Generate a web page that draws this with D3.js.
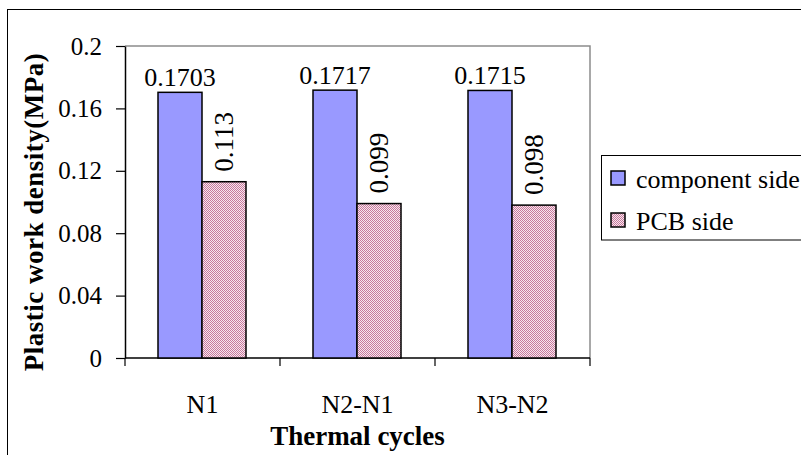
<!DOCTYPE html>
<html>
<head>
<meta charset="utf-8">
<script src="https://cdn.jsdelivr.net/npm/d3@7/dist/d3.min.js"></script>
<style>
  html, body { margin: 0; padding: 0; background: #fff; }
  svg { display: block; }
  text { font-family: "Liberation Serif", "Times New Roman", "DejaVu Serif", serif; fill: #000; }
</style>
</head>
<body>
<svg id="chart" width="801" height="455"></svg>
<script>
// Plastic work density per thermal-cycle interval
const categories = ["N1", "N2-N1", "N3-N2"];
const seriesNames = ["component side", "PCB side"];
const componentSide = [0.1703, 0.1717, 0.1715];
const pcbSide = [0.113, 0.099, 0.098];
const componentLabels = ["0.1703", "0.1717", "0.1715"];
const pcbLabels = ["0.113", "0.099", "0.098"];
const yTicks = [0, 0.04, 0.08, 0.12, 0.16, 0.2];
const yTickLabels = ["0", "0.04", "0.08", "0.12", "0.16", "0.2"];

const svg = d3.select("#chart");

// fine checkered fill for the PCB side series
const defs = svg.append("defs");
const pat = defs.append("pattern")
  .attr("id", "pcbFill")
  .attr("patternUnits", "userSpaceOnUse")
  .attr("x", 0).attr("y", 0)
  .attr("width", 2).attr("height", 2);
pat.append("rect").attr("width", 2).attr("height", 2)
  .attr("fill", "#f6e8ee").attr("shape-rendering", "crispEdges");
pat.append("rect").attr("x", 0).attr("y", 0).attr("width", 1).attr("height", 1)
  .attr("fill", "#c8789c").attr("shape-rendering", "crispEdges");
pat.append("rect").attr("x", 1).attr("y", 1).attr("width", 1).attr("height", 1)
  .attr("fill", "#c8789c").attr("shape-rendering", "crispEdges");

// outer chart frame
svg.append("rect")
  .attr("x", 7.5).attr("y", 9.5).attr("width", 820).attr("height", 470)
  .attr("fill", "none").attr("stroke", "#000").attr("stroke-width", 1);

const plot = { left: 125, right: 590, top: 46, bottom: 358 };

const x0 = d3.scaleBand().domain(categories).rangeRound([plot.left, plot.right]).padding(0);
const barW = x0.bandwidth() / 3.5;
const x1 = d3.scaleBand().domain(seriesNames)
  .rangeRound([(x0.bandwidth() - 2 * barW) / 2, (x0.bandwidth() + 2 * barW) / 2]).padding(0);
const y = d3.scaleLinear().domain([0, 0.2]).range([plot.bottom, plot.top]);
const barX = (cat, s) => x0(cat) + x1(s);

// plot area border (top and right)
svg.append("path")
  .attr("d", `M${plot.left},${plot.top}H${plot.right}V${plot.bottom}`)
  .attr("fill", "none").attr("stroke", "#8c8c8c").attr("stroke-width", 1.5);

// y axis
const yAxis = svg.append("g")
  .attr("transform", `translate(${plot.left},0)`)
  .call(d3.axisLeft(y).tickValues(yTicks).tickSize(9).tickSizeOuter(0).tickPadding(14)
    .tickFormat((d, i) => yTickLabels[i]));
yAxis.select(".domain").attr("stroke", "#000").attr("stroke-width", 1.5);
yAxis.selectAll(".tick line").attr("stroke", "#000").attr("stroke-width", 1.2);
yAxis.selectAll(".tick text")
  .attr("font-family", "Liberation Serif").attr("font-size", 25).attr("fill", "#000");

// x axis line and category boundary ticks
svg.append("line")
  .attr("x1", plot.left).attr("x2", plot.right)
  .attr("y1", plot.bottom).attr("y2", plot.bottom)
  .attr("stroke", "#000").attr("stroke-width", 1.5);
const bounds = categories.map(c => x0(c)).concat([x0(categories[categories.length - 1]) + x0.bandwidth()]);
svg.selectAll(".xtick").data(bounds).join("line")
  .attr("class", "xtick")
  .attr("x1", d => d).attr("x2", d => d)
  .attr("y1", plot.bottom).attr("y2", plot.bottom + 8)
  .attr("stroke", "#000").attr("stroke-width", 1.2);

svg.selectAll(".xlab").data(categories).join("text")
  .attr("class", "xlab")
  .attr("x", d => x0(d) + x0.bandwidth() / 2)
  .attr("y", 413)
  .attr("text-anchor", "middle")
  .attr("font-size", 26)
  .text(d => d);

// bars (absolute coordinates so the checker pattern stays in phase)
svg.selectAll(".bar-comp").data(categories).join("rect")
  .attr("class", "bar-comp")
  .attr("x", d => barX(d, seriesNames[0])).attr("width", x1.bandwidth())
  .attr("y", (d, i) => y(componentSide[i]))
  .attr("height", (d, i) => y(0) - y(componentSide[i]))
  .attr("fill", "#9999ff").attr("stroke", "#000").attr("stroke-width", 1.5);

svg.selectAll(".bar-pcb").data(categories).join("rect")
  .attr("class", "bar-pcb")
  .attr("x", d => barX(d, seriesNames[1])).attr("width", x1.bandwidth())
  .attr("y", (d, i) => y(pcbSide[i]))
  .attr("height", (d, i) => y(0) - y(pcbSide[i]))
  .attr("fill", "url(#pcbFill)").attr("stroke", "#000").attr("stroke-width", 1.5);

// value labels
svg.selectAll(".lab-comp").data(categories).join("text")
  .attr("class", "lab-comp")
  .attr("x", d => barX(d, seriesNames[0]) + x1.bandwidth() / 2)
  .attr("y", (d, i) => y(componentSide[i]) - 6)
  .attr("text-anchor", "middle")
  .attr("font-size", 26)
  .text((d, i) => componentLabels[i]);

svg.selectAll(".lab-pcb").data(categories).join("text")
  .attr("class", "lab-pcb")
  .attr("transform", (d, i) =>
    `translate(${barX(d, seriesNames[1]) + x1.bandwidth() / 2},${y(pcbSide[i]) - 10}) rotate(-90)`)
  .attr("dy", "0.35em")
  .attr("text-anchor", "start")
  .attr("font-size", 27)
  .text((d, i) => pcbLabels[i]);

// axis titles
svg.append("text")
  .attr("transform", `translate(43,${(plot.top + plot.bottom) / 2 + 10}) rotate(-90)`)
  .attr("text-anchor", "middle")
  .attr("font-size", 27).attr("font-weight", "bold")
  .attr("letter-spacing", 0.5)
  .text("Plastic work density(MPa)");

svg.append("text")
  .attr("x", (plot.left + plot.right) / 2)
  .attr("y", 445)
  .attr("text-anchor", "middle")
  .attr("font-size", 27).attr("font-weight", "bold")
  .text("Thermal cycles");

// legend
const legend = svg.append("g");
legend.append("rect")
  .attr("x", 601.5).attr("y", 155.5).attr("width", 230).attr("height", 84.5)
  .attr("fill", "#fff").attr("stroke", "#000").attr("stroke-width", 1);
const fills = ["#9999ff", "url(#pcbFill)"];
const rowY = [178, 220];
seriesNames.forEach((name, i) => {
  legend.append("rect")
    .attr("x", 611).attr("y", rowY[i] - 7).attr("width", 14).attr("height", 14)
    .attr("fill", fills[i]).attr("stroke", "#000").attr("stroke-width", 1.5);
  legend.append("text")
    .attr("x", 636).attr("y", rowY[i] + 10)
    .attr("font-size", 26)
    .text(name);
});
</script>
</body>
</html>
